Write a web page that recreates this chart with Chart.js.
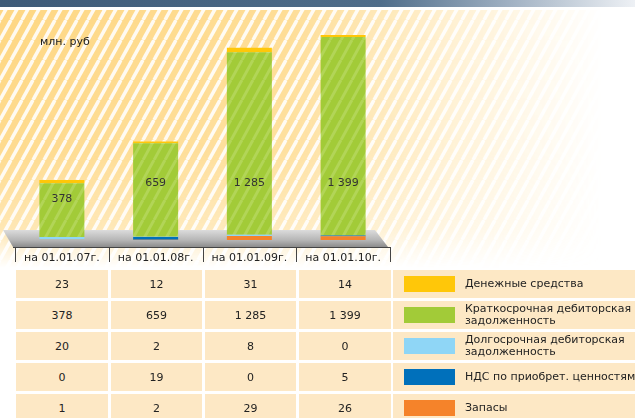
<!DOCTYPE html>
<html>
<head>
<meta charset="utf-8">
<script src="https://cdn.jsdelivr.net/npm/chart.js@4"></script>
<style>
  html, body { margin: 0; padding: 0; background: #fff; overflow: hidden; }
  body { width: 635px; height: 418px; position: relative; font-family: "DejaVu Sans", sans-serif; }
  #chart { position: absolute; left: 0; top: 0; }
  #table { position: absolute; left: 0; top: 0; width: 635px; height: 418px; }
  .cell { position: absolute; background: #fde8c5; font-size: 11px; color: #222;
          display: flex; align-items: center; justify-content: center; }
  .leg { justify-content: flex-start; overflow: hidden; }
  .sw { position: absolute; left: 11px; top: 6px; width: 51px; height: 16px; }
  .lt { margin-left: 72px; line-height: 12px; white-space: pre; }
</style>
</head>
<body>
<canvas id="chart" width="635" height="418"></canvas>
<div id="table"></div>
<script>
// data (млн. руб)
const periods = ['на 01.01.07г.', 'на 01.01.08г.', 'на 01.01.09г.', 'на 01.01.10г.'];
const cash = [23, 12, 31, 14];                   // Денежные средства
const shortReceivables = [378, 659, 1285, 1399]; // Краткосрочная дебиторская задолженность
const longReceivables = [20, 2, 8, 0];           // Долгосрочная дебиторская задолженность
const vat = [0, 19, 0, 5];                       // НДС по приобрет. ценностям
const inventory = [1, 2, 29, 26];                // Запасы
const unitLabel = 'млн. руб';

const colors = {
    yellow: '#ffc709',
    green: '#a2cb38',
    greenLight: '#b2d557',
    lightBlue: '#8fd6f6',
    blue: '#0070bb',
    orange: '#f5832a',
    cell: '#fde8c5'
};

const fmt = v => String(v).replace(/\B(?=(\d{3})+(?!\d))/g, ' ');

// diagonal stripe tile (11 x 20, slope matches the background)
function stripeTile(base, stripe, width) {
    const c = document.createElement('canvas');
    c.width = 11; c.height = 20;
    const g = c.getContext('2d');
    g.fillStyle = base;
    g.fillRect(0, 0, 11, 20);
    g.strokeStyle = stripe;
    g.lineWidth = width;
    for (let k = -1; k <= 1; k++) {
        g.beginPath();
        g.moveTo(k * 11, 20);
        g.lineTo(k * 11 + 11, 0);
        g.stroke();
    }
    return c;
}

const ctx0 = document.getElementById('chart').getContext('2d');
const greenPattern = ctx0.createPattern(stripeTile(colors.green, colors.greenLight, 3), 'repeat');

// background: header strip, fading yellow stripes, grey floor, bracket axis
const backdrop = {
    id: 'backdrop',
    beforeDraw(chart) {
        const { ctx, chartArea, scales } = chart;
        const W = chart.width;
        ctx.save();
        ctx.fillStyle = '#fff';
        ctx.fillRect(0, 0, W, chart.height);

        // header
        const hg = ctx.createLinearGradient(0, 0, W, 0);
        hg.addColorStop(0, '#3d5a78');
        hg.addColorStop(0.6, '#4f6d8a');
        hg.addColorStop(0.8, '#9fb0c2');
        hg.addColorStop(1, '#eef1f5');
        ctx.fillStyle = hg;
        ctx.fillRect(0, 0, W, 7);

        // striped yellow field with fade
        const off = document.createElement('canvas');
        off.width = W; off.height = 270;
        const o = off.getContext('2d');
        o.fillStyle = o.createPattern(stripeTile('#fed783', '#fffaf0', 3.5), 'repeat');
        o.fillRect(0, 10, W, 260);
        o.globalCompositeOperation = 'destination-in';
        const gx = o.createLinearGradient(0, 0, W, 0);
        gx.addColorStop(0, 'rgba(0,0,0,1)');
        gx.addColorStop(0.45, 'rgba(0,0,0,0.85)');
        gx.addColorStop(0.72, 'rgba(0,0,0,0.35)');
        gx.addColorStop(0.95, 'rgba(0,0,0,0)');
        o.fillStyle = gx;
        o.fillRect(0, 0, W, 270);
        const gy = o.createLinearGradient(0, 10, 0, 268);
        gy.addColorStop(0, 'rgba(0,0,0,1)');
        gy.addColorStop(0.55, 'rgba(0,0,0,0.9)');
        gy.addColorStop(0.85, 'rgba(0,0,0,0.6)');
        gy.addColorStop(1, 'rgba(0,0,0,0)');
        o.fillStyle = gy;
        o.fillRect(0, 0, W, 270);
        ctx.drawImage(off, 0, 0);

        // floor
        const b = chartArea.bottom;
        const fg = ctx.createLinearGradient(0, b - 10, 0, b + 7);
        fg.addColorStop(0, '#dcdcdc');
        fg.addColorStop(0.6, '#b5b5b5');
        fg.addColorStop(1, '#8c8c8c');
        ctx.fillStyle = fg;
        ctx.beginPath();
        ctx.moveTo(chartArea.left - 12, b - 10);
        ctx.lineTo(chartArea.right - 15, b - 10);
        ctx.lineTo(chartArea.right - 2, b + 7);
        ctx.lineTo(chartArea.left - 2, b + 7);
        ctx.closePath();
        ctx.fill();

        // bracket axis
        const x = scales.x;
        const step = (chartArea.right - chartArea.left) / periods.length;
        ctx.strokeStyle = '#444';
        ctx.lineWidth = 1;
        ctx.beginPath();
        ctx.moveTo(chartArea.left - 2, b + 7.5);
        ctx.lineTo(chartArea.right + 1, b + 7.5);
        for (let i = 0; i <= periods.length; i++) {
            const px = Math.round(x.left + i * step) + 0.5;
            ctx.moveTo(px, b + 7.5);
            ctx.lineTo(px, b + 22);
        }
        ctx.stroke();

        // unit
        ctx.fillStyle = '#222';
        ctx.font = '11px "DejaVu Sans"';
        ctx.textBaseline = 'middle';
        ctx.fillText(unitLabel, 40, 42);
        ctx.restore();
    }
};

// value of the short-term receivables inside the green segment
const barValues = {
    id: 'barValues',
    afterDatasetsDraw(chart) {
        const { ctx } = chart;
        const meta = chart.getDatasetMeta(3);
        ctx.save();
        ctx.fillStyle = '#333';
        ctx.font = '11px "DejaVu Sans"';
        ctx.textAlign = 'center';
        ctx.textBaseline = 'middle';
        meta.data.forEach((el, i) => {
            const y = Math.max(el.y + 16, 183);
            ctx.fillText(fmt(shortReceivables[i]), el.x, y);
        });
        ctx.restore();
    }
};

new Chart(ctx0, {
    type: 'bar',
    data: {
        labels: periods,
        datasets: [
            { label: 'Запасы', data: inventory, backgroundColor: colors.orange },
            { label: 'НДС по приобрет. ценностям', data: vat, backgroundColor: colors.blue },
            { label: 'Долгосрочная дебиторская задолженность', data: longReceivables, backgroundColor: colors.lightBlue },
            { label: 'Краткосрочная дебиторская задолженность', data: shortReceivables, backgroundColor: greenPattern },
            { label: 'Денежные средства', data: cash, backgroundColor: colors.yellow }
        ]
    },
    options: {
        responsive: false,
        animation: false,
        events: [],
        layout: { padding: { left: 15, right: 245, top: 27, bottom: 140.8 } },
        datasets: { bar: { barPercentage: 0.48, categoryPercentage: 1, borderWidth: 0 } },
        plugins: { legend: { display: false }, tooltip: { enabled: false } },
        scales: {
            x: {
                stacked: true,
                grid: { display: false, drawTicks: false },
                border: { display: false },
                ticks: { padding: 12, color: '#222', font: { family: 'DejaVu Sans', size: 11 } }
            },
            y: { stacked: true, display: false, min: 0, max: 1500 }
        }
    },
    plugins: [backdrop, barValues]
});

// table + legend (top row of the table is the top of the stack)
const rows = [
    { label: 'Денежные средства', color: colors.yellow, values: cash },
    { label: 'Краткосрочная дебиторская\nзадолженность', color: colors.green, values: shortReceivables },
    { label: 'Долгосрочная дебиторская\nзадолженность', color: colors.lightBlue, values: longReceivables },
    { label: 'НДС по приобрет. ценностям', color: colors.blue, values: vat },
    { label: 'Запасы', color: colors.orange, values: inventory }
];
const cols = [[16, 92], [111, 91], [205, 91], [299, 92]];
const table = document.getElementById('table');
rows.forEach((r, ri) => {
    const top = 270 + ri * 31;
    r.values.forEach((v, ci) => {
        const d = document.createElement('div');
        d.className = 'cell';
        d.style.cssText = `left:${cols[ci][0]}px;width:${cols[ci][1]}px;top:${top}px;height:28px;`;
        d.textContent = fmt(v);
        table.appendChild(d);
    });
    const l = document.createElement('div');
    l.className = 'cell leg';
    l.style.cssText = `left:393px;width:242px;top:${top}px;height:28px;`;
    const sw = document.createElement('div');
    sw.className = 'sw';
    sw.style.background = r.color;
    const t = document.createElement('div');
    t.className = 'lt';
    t.textContent = r.label;
    l.appendChild(sw);
    l.appendChild(t);
    table.appendChild(l);
});
</script>
</body>
</html>
